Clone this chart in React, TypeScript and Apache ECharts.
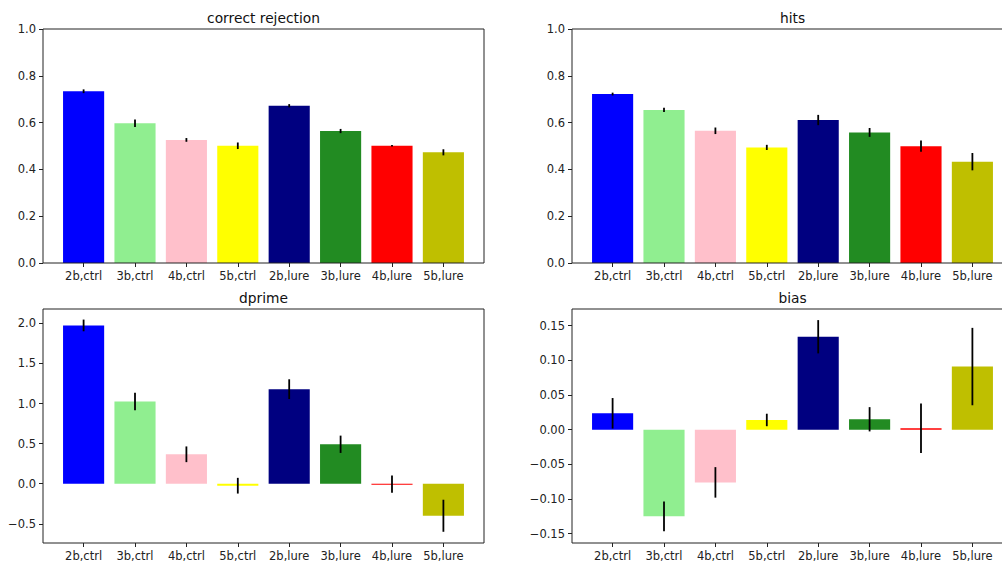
import React, { useEffect, useRef } from "react";
import * as echarts from "echarts";

const categories = ["2b,ctrl", "3b,ctrl", "4b,ctrl", "5b,ctrl", "2b,lure", "3b,lure", "4b,lure", "5b,lure"];
const barColors = ["#0000ff", "#90ee90", "#ffc0cb", "#ffff00", "#000080", "#228b22", "#ff0000", "#bfbf00"];

const crMeans = [0.734, 0.597, 0.526, 0.501, 0.672, 0.564, 0.501, 0.473];
const crErrs = [0.008, 0.016, 0.008, 0.014, 0.007, 0.009, 0.003, 0.013];
const hitsMeans = [0.722, 0.654, 0.565, 0.494, 0.611, 0.558, 0.499, 0.433];
const hitsErrs = [0.006, 0.009, 0.014, 0.011, 0.022, 0.019, 0.024, 0.037];
const dprimeMeans = [1.975, 1.025, 0.367, -0.025, 1.18, 0.492, -0.005, -0.4];
const dprimeErrs = [0.073, 0.11, 0.098, 0.098, 0.123, 0.108, 0.108, 0.2];
const biasMeans = [0.0236, -0.125, -0.076, 0.014, 0.134, 0.015, 0.002, 0.091];
const biasErrs = [0.022, 0.0216, 0.022, 0.009, 0.024, 0.0175, 0.0356, 0.0558];

const rateTicks = [0, 0.2, 0.4, 0.6, 0.8, 1.0];
const dprimeTicks = [-0.5, 0, 0.5, 1.0, 1.5, 2.0];
const biasTicks = [-0.15, -0.1, -0.05, 0, 0.05, 0.1, 0.15];

const FONT = "DejaVu Sans";
const TXT = "#222";

export default function App() {
  const ref = useRef<HTMLDivElement>(null);
  useEffect(() => {
    if (!ref.current) return;
    const chart = echarts.init(ref.current, null, { renderer: "svg" });
    const W = 441;
    const H = 234;
    const u = W / 8.58;
    const panels = [
      { title: "correct rejection", left: 43, top: 29, means: crMeans, errs: crErrs, min: 0, max: 1, ticks: rateTicks, digits: 1 },
      { title: "hits", left: 572, top: 29, means: hitsMeans, errs: hitsErrs, min: 0, max: 1, ticks: rateTicks, digits: 1 },
      { title: "dprime", left: 43, top: 309, means: dprimeMeans, errs: dprimeErrs, min: -0.74, max: 2.18, ticks: dprimeTicks, digits: 1 },
      { title: "bias", left: 572, top: 309, means: biasMeans, errs: biasErrs, min: -0.1634, max: 0.174, ticks: biasTicks, digits: 2 },
    ];
    const grid: any[] = [];
    const xAxis: any[] = [];
    const yAxis: any[] = [];
    const series: any[] = [];
    const graphic: any[] = [];
    panels.forEach((p, i) => {
      const fi = 2 * i;
      const di = 2 * i + 1;
      grid.push({ left: p.left, top: p.top, width: W, height: H, show: true, borderColor: "#222", borderWidth: 1, backgroundColor: "transparent", z: 5, outerBoundsMode: "none", containLabel: false });
      grid.push({ left: p.left + 0.29 * u, top: p.top, width: 8 * u, height: H, outerBoundsMode: "none", containLabel: false });
      xAxis.push({ gridIndex: fi, type: "value", show: false, min: 0, max: 1 });
      xAxis.push({
        gridIndex: di,
        type: "category",
        data: categories,
        axisLine: { show: false, onZero: false },
        axisTick: { show: true, alignWithLabel: true, length: 4, lineStyle: { color: TXT } },
        axisLabel: { interval: 0, fontSize: 11.5, color: TXT, margin: 7, fontFamily: FONT },
        splitLine: { show: false },
      });
      yAxis.push({
        gridIndex: fi,
        type: "value",
        min: p.min,
        max: p.max,
        axisLine: { show: false },
        splitLine: { show: false },
        axisTick: { show: true, length: 4, lineStyle: { color: TXT }, customValues: p.ticks },
        axisLabel: {
          customValues: p.ticks,
          fontSize: 11.5,
          color: TXT,
          margin: 7,
          fontFamily: FONT,
          formatter: (v: number) => v.toFixed(p.digits).replace("-", "\u2212"),
        },
      });
      yAxis.push({ gridIndex: di, type: "value", min: p.min, max: p.max, show: false, splitLine: { show: false } });
      series.push({
        type: "bar",
        xAxisIndex: di,
        yAxisIndex: di,
        barWidth: 0.8 * u,
        barMinHeight: 1,
        data: p.means.map((v, k) => ({ value: v, itemStyle: { color: barColors[k] } })),
        z: 2,
      });
      series.push({
        type: "custom",
        xAxisIndex: di,
        yAxisIndex: di,
        data: p.means.map((v, k) => [k, v - p.errs[k], v + p.errs[k]]),
        encode: { x: 0, y: [1, 2] },
        renderItem: (params: any, api: any) => {
          const a = api.coord([api.value(0), api.value(1)]);
          const b = api.coord([api.value(0), api.value(2)]);
          return {
            type: "line",
            shape: { x1: a[0], y1: a[1], x2: b[0], y2: b[1] },
            style: { stroke: "#000", lineWidth: 1.8 },
          };
        },
        z: 10,
      });
      graphic.push({
        type: "text",
        x: p.left + W / 2,
        y: p.top - 11.5,
        style: { text: p.title, textAlign: "center", textVerticalAlign: "middle", fontSize: 13.8, fill: "#111", fontFamily: FONT },
      });
    });
    chart.setOption({ animation: false, grid, xAxis, yAxis, series, graphic });
    return () => chart.dispose();
  }, []);
  return <div ref={ref} style={{ position: "absolute", left: 0, top: 0, width: 1002, height: 562, background: "#fff" }} />;
}
